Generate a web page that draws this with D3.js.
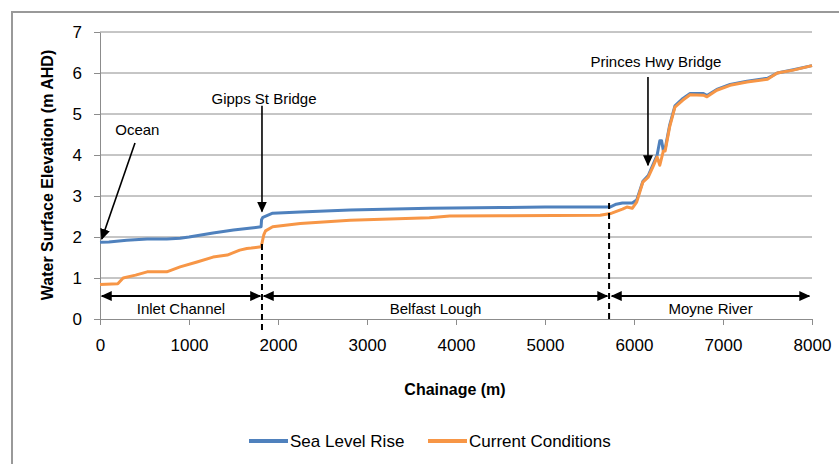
<!DOCTYPE html>
<meta charset="utf-8">
<style>
  body { margin: 0; background: #fff; font-family: "Liberation Sans", Arial, sans-serif; }
  .grid line { stroke: #8c8c8c; stroke-width: 1; }
  .axis text { font-size: 17px; fill: #000; }
  .axis path, .axis line { stroke: #8c8c8c; }
  .series { fill: none; stroke-width: 3; stroke-linejoin: round; }
  .note { font-size: 15px; fill: #000; }
</style>
<body>
<svg width="839" height="464"></svg>
<script src="https://d3js.org/d3.v7.min.js"></script>
<script>
// values: chainage (m) -> water surface elevation (m AHD)
var seaRiseChainage = [0, 100, 300, 530, 750, 900, 1000, 1270, 1500, 1700, 1810, 1815, 1830, 1940, 2250, 2810, 3700, 4500, 5000, 5730, 5800, 5870, 5980, 6030, 6100, 6160, 6210, 6260, 6290, 6310, 6330, 6350, 6400, 6460, 6550, 6630, 6780, 6820, 6930, 7080, 7270, 7500, 7610, 7790, 8000];
var seaRiseLevel    = [1.87, 1.88, 1.92, 1.95, 1.95, 1.97, 2.0, 2.1, 2.17, 2.22, 2.25, 2.42, 2.48, 2.58, 2.61, 2.66, 2.7, 2.72, 2.73, 2.73, 2.8, 2.83, 2.83, 2.9, 3.36, 3.5, 3.75, 4.0, 4.35, 4.35, 4.1, 4.15, 4.72, 5.2, 5.38, 5.5, 5.5, 5.45, 5.6, 5.72, 5.8, 5.87, 6.0, 6.08, 6.18];

var currentChainage = [0, 200, 260, 400, 530, 750, 900, 1090, 1270, 1430, 1570, 1650, 1700, 1810, 1820, 1840, 1860, 1940, 2250, 2810, 3700, 3930, 4500, 5620, 5750, 5870, 5920, 5980, 6030, 6100, 6160, 6210, 6260, 6290, 6330, 6350, 6400, 6460, 6550, 6630, 6780, 6820, 6930, 7080, 7270, 7500, 7610, 7790, 8000];
var currentLevel    = [0.84, 0.86, 1.0, 1.07, 1.15, 1.15, 1.27, 1.39, 1.51, 1.56, 1.68, 1.72, 1.73, 1.76, 1.85, 2.05, 2.15, 2.25, 2.33, 2.41, 2.47, 2.51, 2.52, 2.53, 2.58, 2.68, 2.73, 2.7, 2.85, 3.34, 3.46, 3.7, 3.95, 3.75, 4.1, 4.1, 4.68, 5.17, 5.34, 5.47, 5.46, 5.42, 5.58, 5.7, 5.78, 5.85, 6.0, 6.07, 6.18];

var xTicks = [0, 1000, 2000, 3000, 4000, 5000, 6000, 7000, 8000];
var yTicks = [0, 1, 2, 3, 4, 5, 6, 7];
var seriesNames = ["Sea Level Rise", "Current Conditions"];
var seriesColors = ["#4f81bd", "#f79646"];

// reaches along the river (chainage), shown as double arrows
var reachNames = ["Inlet Channel", "Belfast Lough", "Moyne River"];
var reachStart = [20, 1840, 5750];
var reachEnd   = [1800, 5700, 7970];
var reachBounds = [1820, 5720];
var boundTop = [1.83, 2.83];
var boundBottom = [-0.34, -0.07];

var svg = d3.select("svg");

// outer frame (left + top edge only visible)
svg.append("path")
    .attr("d", "M12,464 L12,12 L839,12")
    .attr("fill", "none")
    .attr("stroke", "#999")
    .attr("stroke-width", 2);

var x = d3.scaleLinear().domain([0, 8000]).range([100, 812]);
var y = d3.scaleLinear().domain([0, 7]).range([319, 32]);

// horizontal gridlines
svg.append("g")
    .attr("class", "grid")
  .selectAll("line")
  .data(yTicks.slice(1))
  .enter().append("line")
    .attr("x1", x(0)).attr("x2", x(8000))
    .attr("y1", function(d) { return y(d); })
    .attr("y2", function(d) { return y(d); });

svg.append("g")
    .attr("class", "axis")
    .attr("transform", "translate(0," + y(0) + ")")
    .call(d3.axisBottom(x).tickValues(xTicks).tickFormat(d3.format("d")).tickSize(6).tickSizeOuter(0).tickPadding(14))
    .call(function(g) { g.selectAll("text").attr("font-size", 17).attr("font-family", "Liberation Sans"); });

svg.append("g")
    .attr("class", "axis")
    .attr("transform", "translate(" + x(0) + ",0)")
    .call(d3.axisLeft(y).tickValues(yTicks).tickFormat(d3.format("d")).tickSize(6).tickSizeOuter(0).tickPadding(12))
    .call(function(g) { g.selectAll("text").attr("font-size", 17).attr("font-family", "Liberation Sans"); });

// axis titles
svg.append("text")
    .attr("x", 455).attr("y", 395)
    .attr("text-anchor", "middle")
    .attr("font-weight", "bold")
    .attr("font-size", 16)
    .text("Chainage (m)");

svg.append("text")
    .attr("transform", "translate(53,175) rotate(-90)")
    .attr("text-anchor", "middle")
    .attr("font-weight", "bold")
    .attr("font-size", 16)
    .text("Water Surface Elevation (m AHD)");

// series
var line = d3.line()
    .x(function(d) { return x(d[0]); })
    .y(function(d) { return y(d[1]); });

var seaRise = d3.zip(seaRiseChainage, seaRiseLevel);
var current = d3.zip(currentChainage, currentLevel);

svg.append("path").datum(seaRise)
    .attr("class", "series")
    .attr("stroke", seriesColors[0])
    .attr("d", line);

svg.append("path").datum(current)
    .attr("class", "series")
    .attr("stroke", seriesColors[1])
    .attr("d", line);

// arrow marker
var defs = svg.append("defs");
defs.append("marker")
    .attr("id", "head")
    .attr("viewBox", "0 0 11 10")
    .attr("refX", 10).attr("refY", 5)
    .attr("markerWidth", 11).attr("markerHeight", 10)
    .attr("markerUnits", "userSpaceOnUse")
    .attr("orient", "auto-start-reverse")
  .append("path")
    .attr("d", "M0,0 L11,5 L0,10 Z")
    .attr("fill", "#000");

// reach boundaries (dashed)
svg.selectAll(".bound")
  .data(reachBounds)
  .enter().append("line")
    .attr("class", "bound")
    .attr("x1", function(d) { return x(d); })
    .attr("x2", function(d) { return x(d); })
    .attr("y1", function(d, i) { return y(boundTop[i]); })
    .attr("y2", function(d, i) { return y(boundBottom[i]); })
    .attr("stroke", "#000")
    .attr("stroke-width", 2)
    .attr("stroke-dasharray", "6,4");

// reach double arrows + labels
svg.selectAll(".reach")
  .data(reachNames)
  .enter().append("line")
    .attr("class", "reach")
    .attr("x1", function(d, i) { return x(reachStart[i]); })
    .attr("x2", function(d, i) { return x(reachEnd[i]); })
    .attr("y1", y(0.56)).attr("y2", y(0.56))
    .attr("stroke", "#000")
    .attr("stroke-width", 2)
    .attr("marker-start", "url(#head)")
    .attr("marker-end", "url(#head)");

svg.selectAll(".reachLabel")
  .data(reachNames)
  .enter().append("text")
    .attr("class", "note")
    .attr("x", function(d, i) { return x((reachStart[i] + reachEnd[i]) / 2); })
    .attr("y", y(0.12))
    .attr("text-anchor", "middle")
    .text(function(d) { return d; });

// callouts
var callouts = [
  { label: "Ocean", tx: 420, ty: 4.48, x1: 393, y1: 4.29, x2: 20, y2: 1.95 },
  { label: "Gipps St Bridge", tx: 1843, ty: 5.25, x1: 1820, y1: 5.2, x2: 1820, y2: 2.62 },
  { label: "Princes Hwy Bridge", tx: 6247, ty: 6.15, x1: 6157, y1: 5.9, x2: 6157, y2: 3.75 }
];

svg.selectAll(".callout")
  .data(callouts)
  .enter().append("line")
    .attr("class", "callout")
    .attr("x1", function(d) { return x(d.x1); })
    .attr("y1", function(d) { return y(d.y1); })
    .attr("x2", function(d) { return x(d.x2); })
    .attr("y2", function(d) { return y(d.y2); })
    .attr("stroke", "#000")
    .attr("stroke-width", 1.6)
    .attr("marker-end", "url(#head)");

svg.selectAll(".calloutLabel")
  .data(callouts)
  .enter().append("text")
    .attr("class", "note")
    .attr("x", function(d) { return x(d.tx); })
    .attr("y", function(d) { return y(d.ty); })
    .attr("text-anchor", "middle")
    .text(function(d) { return d.label; });

// legend
var legend = svg.append("g").attr("transform", "translate(249,441)");
var legendX = [0, 179];
seriesNames.forEach(function(name, i) {
  var g = legend.append("g").attr("transform", "translate(" + legendX[i] + ",0)");
  g.append("line")
      .attr("x1", 0).attr("x2", 39)
      .attr("stroke", seriesColors[i])
      .attr("stroke-width", 4);
  g.append("text")
      .attr("x", 41).attr("y", 6)
      .attr("font-size", 17)
      .text(name);
});
</script>
</body>
